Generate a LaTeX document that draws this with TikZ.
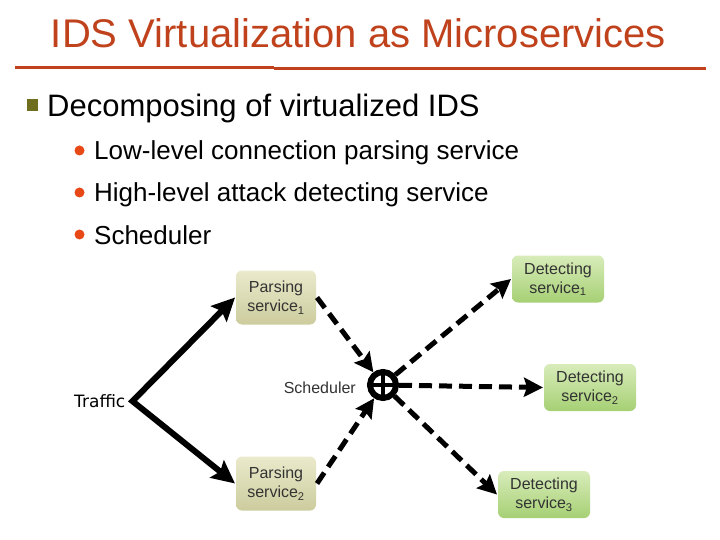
\documentclass[tikz,border=0pt]{standalone}
\usepackage{fontspec}
\setmainfont{Liberation Sans}
\newfontfamily\dvsans{DejaVu Sans}
\usetikzlibrary{arrows.meta}
\definecolor{rust}{RGB}{192,66,28}
\definecolor{olivesq}{RGB}{110,110,30}
\definecolor{dotred}{RGB}{232,72,22}
\definecolor{khakitop}{RGB}{234,234,204}
\definecolor{khakibot}{RGB}{204,204,158}
\definecolor{greentop}{RGB}{216,236,186}
\definecolor{greenbot}{RGB}{166,208,116}
\tikzset{
  boxtext/.style={font=\fontsize{16}{19}\selectfont, text=black!80, align=center},
  pbox/.style={boxtext, rounded corners=6pt, top color=khakitop, bottom color=khakibot, draw=none, inner sep=0pt, outer sep=1pt, minimum width=80pt, minimum height=54pt},
  dbox/.style={boxtext, rounded corners=6pt, top color=greentop, bottom color=greenbot, draw=none, inner sep=0pt, outer sep=1pt, minimum width=92pt, minimum height=47pt},
  solidarrow/.style={line width=6pt, arrows={Stealth[length=23pt,width=22pt,inset=4pt]-Stealth[length=23pt,width=22pt,inset=4pt]}, miter limit=20},
  dasharrow/.style={line width=5pt, dash pattern=on 13pt off 7pt, -{Stealth[length=19pt,width=19pt,inset=3pt]}},
  bulletdot/.style={circle, fill=dotred, minimum size=10pt, inner sep=0pt},
  subtext/.style={anchor=base west, inner sep=0pt, font=\fontsize{26}{31}\selectfont}
}
\begin{document}
\begin{tikzpicture}[x=1pt,y=-1pt]
\useasboundingbox[fill=white] (0,0) rectangle (720,540);
% title
\node[font=\fontsize{40}{48}\selectfont, text=rust, anchor=base, inner sep=0pt] (title) at (358.5,48) {IDS Virtualization as Microservices};
\coordinate (l1a) at (15,67.5);
\coordinate (l1b) at (274,67.5);
\coordinate (l2a) at (274,69);
\coordinate (l2b) at (706,69);
\draw[rust, line width=3.5pt] (l1a) -- (l1b);
\draw[rust, line width=3pt] (l2a) -- (l2b);
% bullets
\node[fill=olivesq, minimum width=11pt, minimum height=12pt, inner sep=0pt] (sq) at (32.5,105) {};
\node[anchor=base west, inner sep=0pt, font=\fontsize{31}{37}\selectfont] (b0) at (47,117) {Decomposing of virtualized IDS};
\node[bulletdot] (d1) at (79.5,150.5) {};
\node[subtext] (s1) at (94,160) {Low-level connection parsing service};
\node[bulletdot] (d2) at (79.5,192.5) {};
\node[subtext] (s2) at (94,202) {High-level attack detecting service};
\node[bulletdot] (d3) at (79.5,234.5) {};
\node[subtext] (s3) at (94,244) {Scheduler};
% diagram nodes
\node[pbox] (P1) at (276,297.5) {Parsing\\service\textsubscript{1}};
\node[pbox] (P2) at (276,483.5) {Parsing\\service\textsubscript{2}};
\node[dbox] (D1) at (558,279) {Detecting\\service\textsubscript{1}};
\node[dbox] (D2) at (590,387.5) {Detecting\\service\textsubscript{2}};
\node[dbox] (D3) at (544,494.5) {Detecting\\service\textsubscript{3}};
\node[anchor=base west, inner sep=0pt, font=\dvsans\fontsize{17}{20}\selectfont] (T) at (74,407.5) {Traffic};
\node[anchor=base east, inner sep=0pt, font=\fontsize{16}{19}\selectfont, text=black!80] (SL) at (356,393) {Scheduler};
\node[circle, draw, line width=6pt, minimum size=26pt, inner sep=0pt] (S) at (383,385) {};
\draw[line width=4pt] (S.north) -- (S.south) (S.west) -- (S.east);
% connectors
\draw[solidarrow] (P1.west) -- ([xshift=7pt]T.east) -- (P2.west);
\draw[dasharrow] (P1.east) -- (S);
\draw[dasharrow] (P2.east) -- (S);
\draw[dasharrow] (S) -- (D1.west);
\draw[dasharrow] (S) -- (D2.west);
\draw[dasharrow] (S) -- (D3.west);
\end{tikzpicture}
\end{document}
